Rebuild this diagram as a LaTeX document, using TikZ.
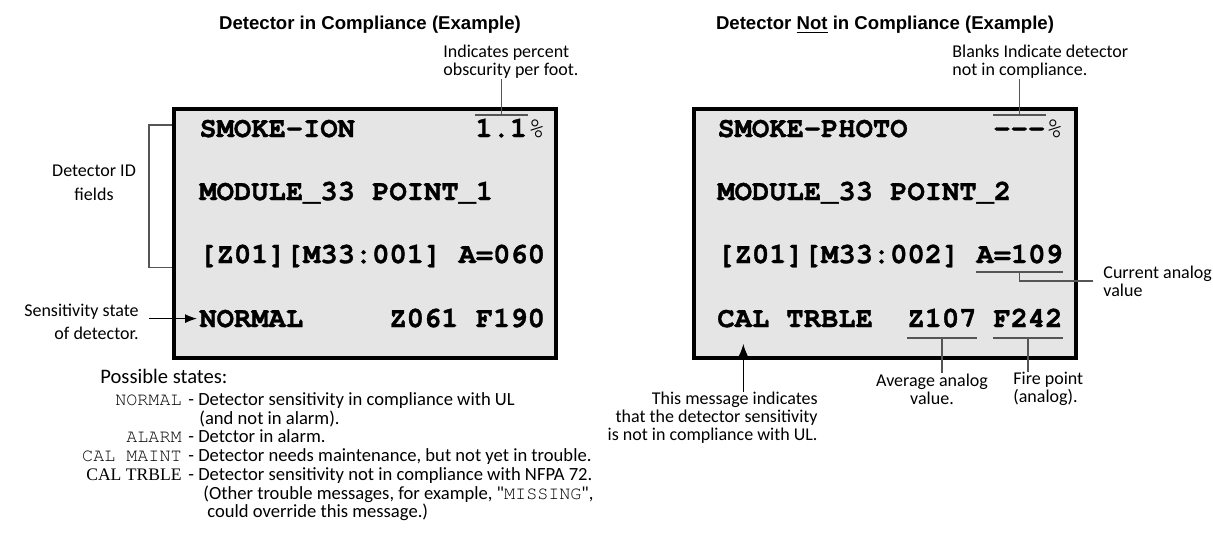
\documentclass[tikz,border=0pt]{standalone}
\usepackage{fontspec}
\usetikzlibrary{arrows.meta}

\newfontfamily\lcdfont{TeX Gyre Cursor}[BoldFeatures={FakeBold=1.2}]
\newfontfamily\notefont{Carlito}
\newfontfamily\headfont{Liberation Sans}
\newfontfamily\keyserif{Liberation Serif}

\definecolor{screengray}{RGB}{229,229,229}
\definecolor{leadgray}{RGB}{85,85,85}

\tikzset{
  lcd/.style={font={\lcdfont\bfseries\fontsize{14.4}{14.4}\selectfont},
    inner sep=0pt, anchor=base west},
  pct/.style={font={\lcdfont\fontsize{14.4}{14.4}\selectfont}},
  screen/.style={draw=black, line width=2pt, fill=screengray,
    minimum width=191pt, minimum height=124.5pt, inner sep=0pt},
  heading/.style={font={\headfont\bfseries\fontsize{9.3}{11}\selectfont},
    inner sep=0pt},
  note/.style={font={\notefont\fontsize{9}{9}\selectfont}, inner sep=0pt},
  desc/.style={font={\notefont\fontsize{9.3}{9.3}\selectfont},
    inner sep=0pt, anchor=base west},
  keymono/.style={font={\lcdfont\fontsize{9.2}{9.2}\selectfont},
    inner sep=0pt, anchor=base east},
  lead/.style={draw=leadgray, line width=0.6pt},
  pointer/.style={draw=black, line width=0.6pt,
    -{Latex[length=6pt,width=4.5pt]}},
}

\begin{document}
\begin{tikzpicture}[x=0.5pt,y=-0.5pt]
  \useasboundingbox (0,0) rectangle (1213,552);

  % headings
  \node[heading] (headA) at (370,25) {Detector in Compliance (Example)};
  \node[heading] (headB) at (885,25)
    {Detector \underline{Not} in Compliance (Example)};

  % the two screens
  \node[screen, anchor=north west] (boxA) at (172,107) {};
  \node[screen, anchor=north west] (boxB) at (692,107) {};

  % screen text, left
  \node[lcd] (ionA) at (199,137) {SMOKE-ION};
  \node[lcd] (obsA) at (475,137) {1.1};
  \node[lcd, pct] (pctA) at (obsA.base east) {\%};
  \node[lcd] (modA) at (199,200) {MODULE\_33 POINT\_1};
  \node[lcd] (idA) at (199,263) {[Z01][M33:001] A=060};
  \node[lcd] (stA) at (199,327) {NORMAL};
  \node[lcd] (valA) at (389,327) {Z061 F190};

  % screen text, right
  \node[lcd] (ionB) at (717,137) {SMOKE-PHOTO};
  \node[lcd] (obsB) at (993,137) {-{}-{}-};
  \node[lcd, pct] (pctB) at (obsB.base east) {\%};
  \node[lcd] (modB) at (717,200) {MODULE\_33 POINT\_2};
  \node[lcd] (idB) at (717,263) {[Z01][M33:002]};
  \node[lcd] (anaB) at (976,263) {A=109};
  \node[lcd] (calB) at (717,327) {CAL};
  \node[lcd] (trbB) at (786,327) {TRBLE};
  \node[lcd] (avgB) at (907,327) {Z107};
  \node[lcd] (fireB) at (993,327) {F242};

  % notes
  \node[note, align=left, anchor=west] (obsNote) at (443,62)
    {Indicates percent\\obscurity per foot.};
  \node[note, align=left, anchor=west] (blankNote) at (952,62)
    {Blanks Indicate detector\\not in compliance.};
  \node[note, align=center] (idNote) at (94,183) {Detector ID\\[3pt]fields};
  \node[note, align=right, anchor=east] (sensNote) at (139,322)
    {Sensitivity state\\[2.5pt]of detector.};
  \node[note, align=right, anchor=east] (msgNote) at (818,418)
    {This message indicates\\that the detector sensitivity\\is not in compliance with UL.};
  \node[note, align=center] (avgNote) at (932,389) {Average analog\\value.};
  \node[note, align=left, anchor=west] (fireNote) at (1013,389)
    {Fire point\\(analog).};
  \node[note, align=left, anchor=west] (curNote) at (1103,281)
    {Current analog\\value};

  % leaders
  \draw[lead] ([yshift=11pt]obsA.base west) -- ([yshift=11pt]obsA.base east);
  \draw[lead] ([yshift=11pt]obsA.base) -- (obsA.base |- obsNote.south);
  \draw[lead] ([yshift=11pt]obsB.base west) -- ([yshift=11pt]obsB.base east);
  \draw[lead] ([yshift=11pt]obsB.base) -- (obsB.base |- blankNote.south);
  \draw[lead] (boxA.west |- 0,125) -- ++(-23,0) |- (boxA.west |- idA.south);
  \draw[lead] ([yshift=-4.5pt]anaB.base west) -- ([yshift=-4.5pt]anaB.base east);
  \draw[lead] ([yshift=-4.5pt]anaB.base) |- ([xshift=-5pt]curNote.west);
  \draw[lead] ([yshift=-5.5pt]avgB.base west) -- ([yshift=-5.5pt]avgB.base east);
  \draw[lead] ([yshift=-5.5pt]avgB.base) -- (avgB.base |- avgNote.north);
  \draw[lead] ([yshift=-5.5pt]fireB.base west) -- ([yshift=-5.5pt]fireB.base east);
  \draw[lead] ([yshift=-5.5pt]fireB.base) -- (fireB.base |- fireNote.north);

  % arrows
  \draw[pointer] ([xshift=5pt]sensNote.east |- stA.west) -- ([xshift=-1pt]stA.west);
  \draw[pointer] (calB.south |- msgNote.north) -- ([yshift=-8pt]calB.south);

  % possible states
  \node[desc, font={\notefont\fontsize{10.3}{10.3}\selectfont}] (possible)
    at (100,383) {Possible states:};
  \foreach \key/\yy [count=\i] in {NORMAL/405, ALARM/442, CAL MAINT/461}
    \node[keymono] (key\i) at (182,\yy) {\key};
  \node[keymono, font={\keyserif\fontsize{8.8}{8.8}\selectfont}] (key4)
    at (182,480) {CAL TRBLE};
  \node[desc] (descN) at (188,405) {- Detector sensitivity in compliance with UL};
  \node[desc] (descN2) at (199,424) {(and not in alarm).};
  \node[desc] (descA) at (188,442) {- Detctor in alarm.};
  \node[desc] (descM) at (188,461) {- Detector needs maintenance, but not yet in trouble.};
  \node[desc] (descT) at (188,480) {- Detector sensitivity not in compliance with NFPA 72.};
  \node[desc] (descT2) at (203,499)
    {(Other trouble messages, for example, "{\lcdfont\fontsize{9.2}{9.2}\selectfont MISSING}",};
  \node[desc] (descT3) at (207,517) {could override this message.)};
\end{tikzpicture}
\end{document}
